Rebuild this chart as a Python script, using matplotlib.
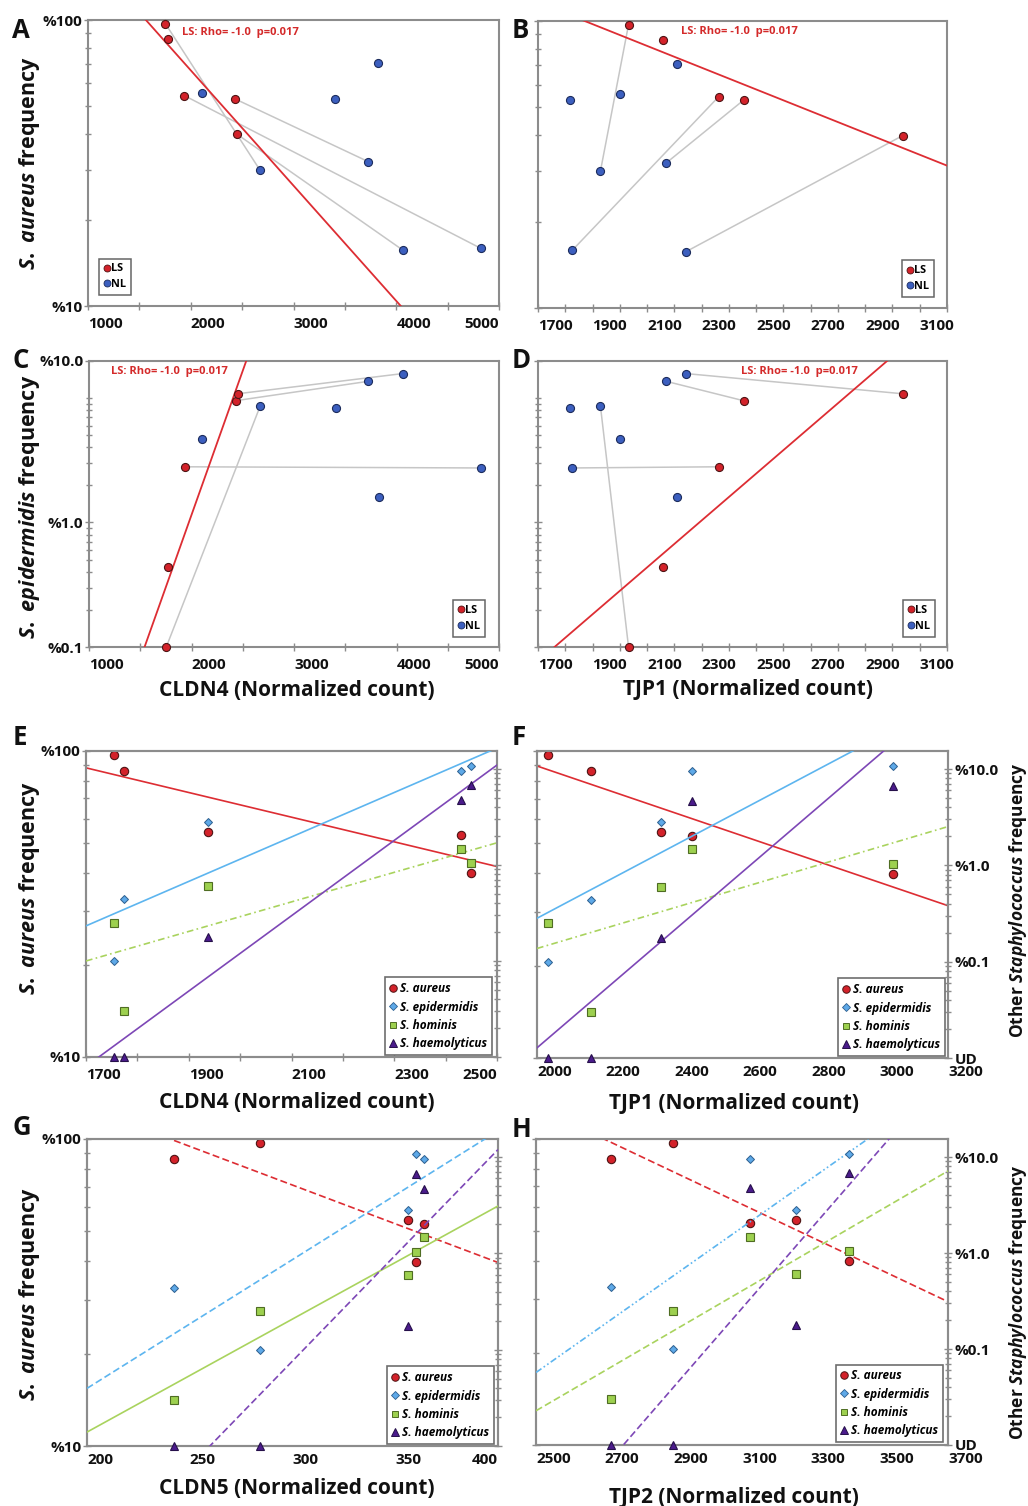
import numpy as np
import matplotlib
matplotlib.use('Agg')
import matplotlib.pyplot as plt
from matplotlib.lines import Line2D
from matplotlib.ticker import LogLocator, NullFormatter

FONT = 'Open Sans'
plt.rcParams['font.family'] = [FONT, 'DejaVu Sans']
plt.rcParams['font.weight'] = 'bold'
plt.rcParams['mathtext.fontset'] = 'custom'
plt.rcParams['mathtext.rm'] = FONT + ':bold'
plt.rcParams['mathtext.it'] = FONT + ':italic:bold'
plt.rcParams['mathtext.bf'] = FONT + ':bold'

# ---------------- data ----------------
# lesional skin (LS) samples 1..5
cldn4_ls = [1754, 1774, 1938, 2430, 2449]
tjp1_ls = [2032, 2157, 2362, 2454, 3038]
cldn5_ls = [284.0, 242.2, 356.0, 364.0, 360.3]
tjp2_ls = [2900, 2718, 3256, 3124, 3412]
aureus_ls = [97.0, 85.8, 54.4, 53.0, 39.9]
epi_ls = [0.10, 0.44, 2.8, 9.5, 10.8]
hominis_ls = [0.25, 0.030, 0.60, 1.48, 1.04]
haemo_ls = [0.01, 0.01, 0.177, 4.7, 6.75]   # 0.01 = UD (undetected)

# non-lesional (NL) samples
cldn4_nl = [2105, 2670, 3405, 3725, 3827, 4062, 4824]
tjp1_nl = [2001, 1929, 1816, 2170, 2209, 2242, 1826]
aureus_nl = [55.5, 30.0, 52.9, 32.0, 71.0, 15.7, 15.9]
epi_nl = [4.71, 8.6, 8.3, 13.6, 1.61, 15.7, 2.74]
# matched LS / NL pairs (index into LS list, index into NL list)
pairs = [(0, 1), (2, 6), (3, 3), (4, 5)]

annot = 'LS: Rho= -1.0  p=0.017'
species = ['S. aureus', 'S. epidermidis', 'S. hominis', 'S. haemolyticus']

# ---------------- figure ----------------
W, H = 1028, 1506
fig = plt.figure(figsize=(W / 100, H / 100), dpi=100)

SPINE = '#8c8c8c'
PAIR = '#c6c6c6'
RED, RED_E = '#d3222a', '#4d1414'
BLUE, BLUE_E = '#3c5fbf', '#1c2c5c'
EPI, EPI_E = '#5ea9e8', '#2d5f8f'
HOM, HOM_E = '#9dd04f', '#4f6d23'
HAE, HAE_E = '#4b1b8c', '#26104a'
RED_L, EPI_L, HOM_L, HAE_L = '#dd2d33', '#5db5ef', '#a9d35e', '#7d47b6'
TXT = '#111111'


def px_ax(l, t, r, b):
    return fig.add_axes([l / W, 1 - b / H, (r - l) / W, (b - t) / H])


def style(ax, xlen=6):
    for s in ax.spines.values():
        s.set_color(SPINE)
        s.set_linewidth(1.5)
    ax.tick_params(which='both', direction='inout', color=SPINE, width=1.0,
                   labelsize=11, labelcolor=TXT)
    ax.tick_params(axis='x', which='both', length=xlen, pad=5)
    ax.tick_params(axis='y', which='major', length=6, pad=1)
    ax.tick_params(axis='y', which='minor', length=4)


def set_log_y(ax, lo, hi, majors, labels):
    ax.set_yscale('log')
    ax.set_ylim(lo, hi)
    ax.set_yticks(majors, labels)
    ax.yaxis.set_minor_locator(LogLocator(base=10, subs=np.arange(1, 10), numticks=60))
    ax.yaxis.set_minor_formatter(NullFormatter())


x_align = []


def set_x(ax, lim, majors, minors, last_right):
    ax.set_xlim(*lim)
    ax.set_xticks(majors, [str(m) for m in majors])
    ax.set_xticks(minors, minor=True)
    x_align.append((ax, last_right))


def fit_line(ax, x, y, xlim, **kw):
    p = np.polyfit(np.asarray(x, float), np.log10(np.asarray(y, float)), 1)
    xs = np.linspace(xlim[0], xlim[1], 200)
    ax.plot(xs, 10 ** np.polyval(p, xs), **kw)


def pt(ax, x, y, marker, ms, fc, ec, z=5, mew=0.8):
    ax.plot(x, y, ls='', marker=marker, ms=ms, mfc=fc, mec=ec, mew=mew,
            clip_on=False, zorder=z)


# ---------- panels A-D ----------
def top_panel(box, x_ls, y_ls, x_nl, y_nl, xlim, xmaj, xmin, ylo, yhi, ymaj, ylabs,
              show_ylab, ann_pos, leg_loc, leg_anchor, last_right):
    ax = px_ax(*box)
    style(ax)
    set_log_y(ax, ylo, yhi, ymaj, ylabs)
    if not show_ylab:
        ax.tick_params(axis='y', labelleft=False)
    set_x(ax, xlim, xmaj, xmin, last_right)
    for i, j in pairs:
        ax.plot([x_ls[i], x_nl[j]], [y_ls[i], y_nl[j]], color=PAIR, lw=1.1, zorder=2)
    fit_line(ax, x_ls, y_ls, xlim, color=RED_L, lw=1.3, zorder=3)
    pt(ax, x_nl, y_nl, 'o', 5.8, BLUE, BLUE_E)
    pt(ax, x_ls, y_ls, 'o', 5.8, RED, RED_E)
    ax.text(ann_pos[0], ann_pos[1], annot, transform=ax.transAxes, color='#d42a2a',
            fontsize=8, ha='left', va='center')
    hd = [Line2D([], [], ls='', marker='o', ms=5.0, mfc=RED, mec=RED_E, mew=0.6, label='LS'),
          Line2D([], [], ls='', marker='o', ms=5.0, mfc=BLUE, mec=BLUE_E, mew=0.6, label='NL')]
    leg = ax.legend(handles=hd, loc=leg_loc, bbox_to_anchor=leg_anchor, borderaxespad=0,
                    prop=dict(size=7.8, weight='bold'), frameon=True, fancybox=False,
                    edgecolor='#666666', framealpha=1, handlelength=0.5,
                    handletextpad=0.15, borderpad=0.45, labelspacing=0.45)
    leg.get_frame().set_linewidth(1.1)
    return ax


cl4_maj = [1000, 2000, 3000, 4000, 5000]
cl4_min = [1500, 2500, 3500, 4500]
tj1_maj = list(range(1700, 3101, 200))
tj1_min = list(range(1800, 3201, 200))

top_panel((88, 20, 499, 306), cldn4_ls, aureus_ls, cldn4_nl, aureus_nl, (1000, 5000),
          cl4_maj, cl4_min, 10, 100, [10, 100], ['%10', '%100'], True,
          (0.229, 0.958), 'lower left', (0.027, 0.038), True)
top_panel((538, 21, 947, 308), tjp1_ls, aureus_ls, tjp1_nl, aureus_nl, (1700, 3200),
          tj1_maj, tj1_min, 10, 100, [10, 100], ['%10', '%100'], False,
          (0.35, 0.962), 'lower right', (0.968, 0.038), False)
top_panel((89, 361, 499, 647), cldn4_ls, epi_ls, cldn4_nl, epi_nl, (1000, 5000),
          cl4_maj, cl4_min, 0.1, 19.8, [0.1, 1, 19.8], ['%0.1', '%1.0', '%10.0'], True,
          (0.054, 0.962), 'lower right', (0.966, 0.035), True)
top_panel((538, 361, 947, 647), tjp1_ls, epi_ls, tjp1_nl, epi_nl, (1700, 3200),
          tj1_maj, tj1_min, 0.1, 19.8, [0.1, 1, 19.8], ['%0.1', '%1.0', '%10.0'], False,
          (0.496, 0.962), 'lower right', (0.971, 0.035), False)


# ---------- panels E-H ----------
def bottom_panel(box, x, xlim, xmaj, xmin, xlen, lstyles, left_labels, leg_anchor,
                 last_right):
    ax = px_ax(*box)
    style(ax, xlen=xlen)
    set_log_y(ax, 10, 100, [10, 100], ['%10', '%100'])
    if not left_labels:
        ax.tick_params(axis='y', labelleft=False)
    set_x(ax, xlim, xmaj, xmin, last_right)
    ax2 = ax.twinx()
    style(ax2, xlen=xlen)
    set_log_y(ax2, 0.01, 15.4, [0.01, 0.1, 1, 10], ['UD', '%0.1', '%1.0', '%10.0'])
    ax2.tick_params(axis='y', which='major', pad=2)
    if left_labels:
        ax2.tick_params(axis='y', labelright=False)
    lw = 1.2
    fit_line(ax, x, aureus_ls, xlim, color=RED_L, lw=lw, ls=lstyles[0], zorder=3)
    pt(ax, x, aureus_ls, 'o', 6.0, RED, RED_E)
    fit_line(ax2, x, epi_ls, xlim, color=EPI_L, lw=lw, ls=lstyles[1], zorder=3)
    fit_line(ax2, x, hominis_ls, xlim, color=HOM_L, lw=lw, ls=lstyles[2], zorder=3)
    fit_line(ax2, x, haemo_ls, xlim, color=HAE_L, lw=lw, ls=lstyles[3], zorder=3)
    pt(ax2, x, epi_ls, 'D', 4.2, EPI, EPI_E, mew=0.7)
    pt(ax2, x, hominis_ls, 's', 5.6, HOM, HOM_E)
    pt(ax2, x, haemo_ls, '^', 6.0, HAE, HAE_E)
    hd = [Line2D([], [], ls='', marker='o', ms=5.4, mfc=RED, mec=RED_E, mew=0.7),
          Line2D([], [], ls='', marker='D', ms=3.6, mfc=EPI, mec=EPI_E, mew=0.6),
          Line2D([], [], ls='', marker='s', ms=5.0, mfc=HOM, mec=HOM_E, mew=0.7),
          Line2D([], [], ls='', marker='^', ms=5.4, mfc=HAE, mec=HAE_E, mew=0.7)]
    leg = ax2.legend(hd, species, loc='lower right', bbox_to_anchor=leg_anchor,
                     borderaxespad=0, prop=dict(size=8.5, weight='bold', style='italic'),
                     frameon=True, fancybox=False, edgecolor='#6e6e6e', framealpha=1,
                     handlelength=0.6, handletextpad=0.3, borderpad=0.4,
                     labelspacing=0.45)
    leg.get_frame().set_linewidth(1.2)
    leg.set_zorder(20)
    return ax, ax2


dash = (0, (4.2, 2.0))
dashdot = (0, (4.0, 2.0, 1.0, 2.0))
dashdotdot = (0, (4.0, 1.6, 1.0, 1.6, 1.0, 1.6))

bottom_panel((86, 751, 497, 1057), cldn4_ls, (1700, 2500),
             [1700, 1900, 2100, 2300, 2500], [1800, 2000, 2200, 2400], 6,
             ['-', '-', dashdot, '-'], True, (0.988, 0.007), True)
bottom_panel((537, 751, 948, 1058), tjp1_ls, (2000, 3200),
             list(range(2000, 3201, 200)), [], 0,
             ['-', '-', dashdot, '-'], False, (0.993, 0.007), False)
bottom_panel((87, 1139, 498, 1446), cldn5_ls, (200, 400),
             [200, 250, 300, 350, 400], [], 0,
             [dash, dash, '-', dash], True, (0.99, 0.007), True)
bottom_panel((536, 1139, 948, 1445), tjp2_ls, (2500, 3700),
             list(range(2500, 3701, 200)), [], 0,
             [dash, dashdotdot, dash, dash], False, (0.988, 0.01), False)

# x tick label alignment (labels start at their tick, like the original)
for ax, last_right in x_align:
    labs = ax.get_xticklabels()
    for lab in labs:
        lab.set_ha('left')
    if last_right:
        labs[-1].set_ha('right')

# ---------- figure texts ----------
def ftext(x, y, s, **kw):
    fig.text(x / W, 1 - y / H, s, color=TXT, **kw)


for letter, (lx, ly) in zip('ABCDEFGH', [(12, 38), (512, 38), (12, 368), (512, 368),
                                        (13, 745), (512, 745), (13, 1135), (512, 1137)]):
    ftext(lx, ly, letter, fontsize=18.5, ha='left', va='baseline')

ylab_sa = r'$\mathit{S.\ aureus}$ frequency'
ylab_se = r'$\mathit{S.\ epidermidis}$ frequency'
ylab_other = r'Other $\mathit{Staphylococcus}$ frequency'
ftext(30, 163, ylab_sa, fontsize=15.5, rotation=90, ha='center', va='center')
ftext(30, 507, ylab_se, fontsize=15.5, rotation=90, ha='center', va='center')
ftext(30, 888, ylab_sa, fontsize=15.5, rotation=90, ha='center', va='center')
ftext(30, 1294, ylab_sa, fontsize=15.5, rotation=90, ha='center', va='center')
ftext(1018, 900, ylab_other, fontsize=12.5, rotation=90, ha='center', va='center')
ftext(1018, 1302, ylab_other, fontsize=12.5, rotation=90, ha='center', va='center')

ftext(297, 690, 'CLDN4 (Normalized count)', fontsize=15, ha='center', va='center')
ftext(748, 690, 'TJP1 (Normalized count)', fontsize=15, ha='center', va='center')
ftext(297, 1103, 'CLDN4 (Normalized count)', fontsize=15, ha='center', va='center')
ftext(734, 1103, 'TJP1 (Normalized count)', fontsize=15, ha='center', va='center')
ftext(297, 1488, 'CLDN5 (Normalized count)', fontsize=15, ha='center', va='center')
ftext(734, 1497, 'TJP2 (Normalized count)', fontsize=15, ha='center', va='center')

fig.savefig('out.png', dpi=100)
